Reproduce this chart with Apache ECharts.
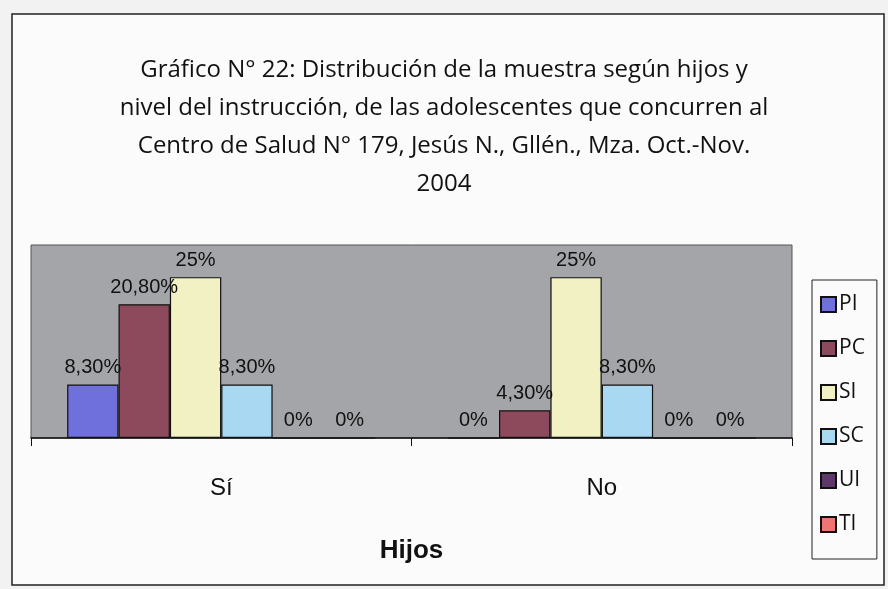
<!DOCTYPE html>
<html>
<head>
<meta charset="utf-8">
<script src="https://cdn.jsdelivr.net/npm/echarts@6/dist/echarts.min.js"></script>
<style>
  html,body{margin:0;padding:0;background:#f2f2f2;}
  #chart{width:888px;height:589px;}
</style>
</head>
<body>
<div id="chart"></div>
<script>
// ===== Datos
const categorias = ['Sí','No'];
const niveles = ['PI','PC','SI','SC','UI','TI'];
const PI = [8.3, 0];
const PC = [20.8, 4.3];
const SI = [25, 25];
const SC = [8.3, 8.3];
const UI = [0, 0];
const TI = [0, 0];
const colores = ['#6f70dc','#8c4a5c','#f1f1c4','#a9d9f2','#5e3868','#f07474'];
const titulo = 'Gráfico N° 22: Distribución de la muestra según hijos y\nnivel del instrucción, de las adolescentes que concurren al\nCentro de Salud N° 179, Jesús N., Gllén., Mza. Oct.-Nov.\n2004';

const valores = [PI, PC, SI, SC, UI, TI];
const fmtPct = v => Number.isInteger(v) ? v + '%' : v.toFixed(2).replace('.', ',') + '%';

const chart = echarts.init(document.getElementById('chart'));
chart.setOption({
  backgroundColor: '#f2f2f2',
  animation: false,
  graphic: [{
    type: 'rect', z: -10,
    shape: { x: 12, y: 14, width: 872, height: 571 },
    style: { fill: '#fbfbfb', stroke: '#222', lineWidth: 1.5 }
  }],
  title: {
    text: titulo,
    left: 'center', top: 46,
    textStyle: { fontFamily: 'Open Sans', fontWeight: 'normal', fontSize: 24, lineHeight: 38, color: '#111' }
  },
  legend: {
    orient: 'vertical', left: 812, top: 280,
    data: niveles,
    icon: 'rect', itemWidth: 15, itemHeight: 15, itemGap: 23,
    padding: [14, 12, 24, 8],
    backgroundColor: '#fbfbfb', borderColor: '#222', borderWidth: 1,
    textStyle: { fontFamily: 'Open Sans', fontSize: 21, color: '#111', padding: [0,0,0,-2] }
  },
  grid: {
    left: 31, right: 96, top: 245, bottom: 151,
    show: true, backgroundColor: '#a4a5a9', borderColor: '#555', borderWidth: 1
  },
  xAxis: {
    type: 'category', data: categorias,
    axisLine: { lineStyle: { color: '#111', width: 1.5 } },
    axisTick: { show: true, length: 8, lineStyle: { color: '#111' } },
    axisLabel: { margin: 38, fontFamily: 'Liberation Sans', fontSize: 24, color: '#111' },
    name: 'Hijos', nameLocation: 'middle', nameGap: 100,
    nameTextStyle: { fontFamily: 'Liberation Sans', fontWeight: 'bold', fontSize: 26, color: '#111' }
  },
  yAxis: { type: 'value', min: 0, max: 30, show: false, splitLine: { show: false } },
  series: niveles.map((n, i) => ({
    name: n, type: 'bar', data: valores[i],
    barGap: 0, barCategoryGap: '19%',
    itemStyle: { color: colores[i], borderColor: '#111', borderWidth: 1.2 },
    label: {
      show: true, position: 'top', distance: 7,
      formatter: p => fmtPct(p.value),
      fontFamily: 'Liberation Sans', fontSize: 20, color: '#111'
    }
  }))
});
</script>
</body>
</html>
